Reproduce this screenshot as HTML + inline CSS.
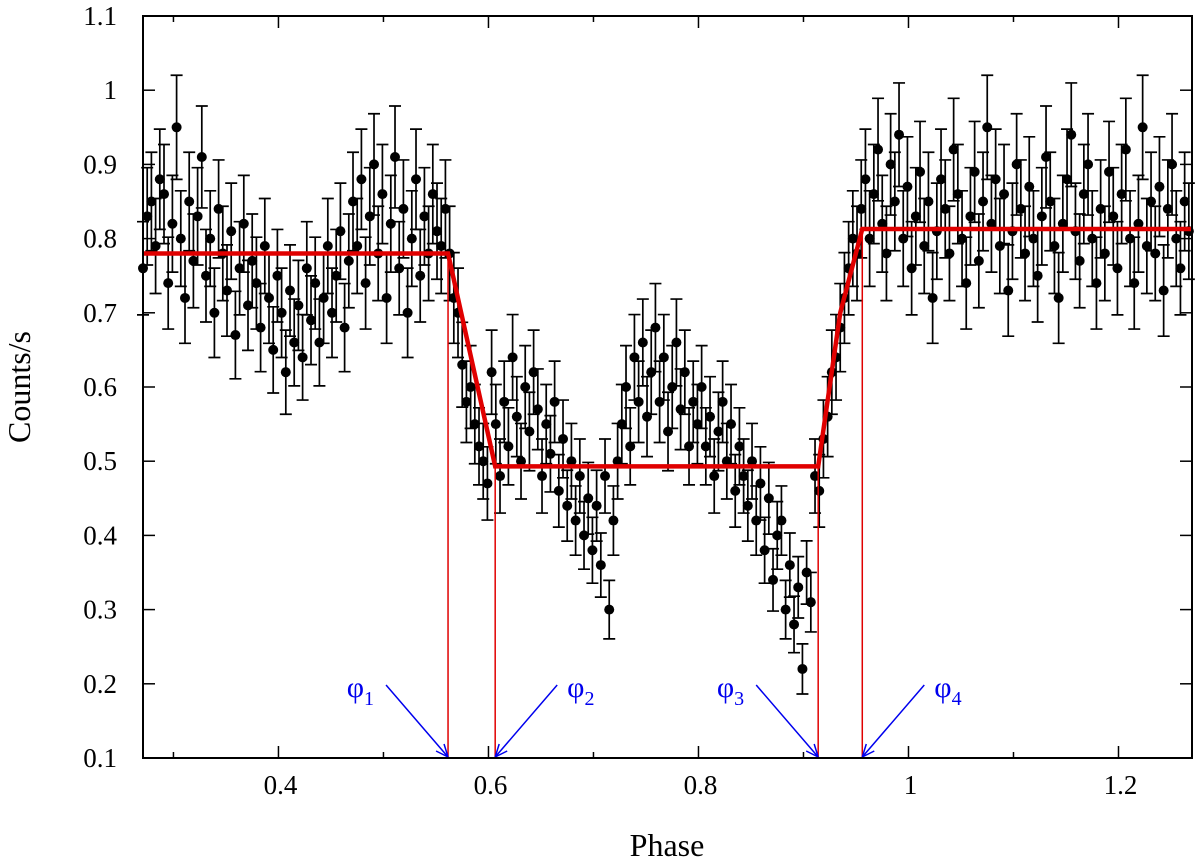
<!DOCTYPE html>
<html><head><meta charset="utf-8"><style>
body{margin:0;background:#fff;}
svg{display:block;font-family:"Liberation Serif",serif;}
</style></head><body>
<svg id="chart" width="1200" height="861" viewBox="0 0 1200 861" xmlns="http://www.w3.org/2000/svg">
<g id="grid"></g>
<g id="errs" stroke="#000" stroke-width="1.7"></g>
<g id="pts" fill="#000"></g>
<g id="fit"></g>
<g id="ann"></g>
<rect x="143" y="16" width="1049" height="742" fill="none" stroke="#000" stroke-width="2"/>
<text x="667" y="856" font-size="32" text-anchor="middle">Phase</text>
<text transform="translate(30,387) rotate(-90)" font-size="32" text-anchor="middle">Counts/s</text>
</svg>
<script>
const xMin=0.271, xMax=1.270, yMin=0.1, yMax=1.1;
const phaseStart=0.271, phaseStep=0.004;
const counts=[0.76,0.83,0.85,0.79,0.88,0.86,0.74,0.82,0.95,0.80,
0.72,0.85,0.77,0.83,0.91,0.75,0.80,0.70,0.84,0.78,
0.73,0.81,0.67,0.76,0.82,0.71,0.77,0.74,0.68,0.79,
0.72,0.65,0.75,0.70,0.62,0.73,0.66,0.71,0.64,0.76,
0.69,0.74,0.66,0.72,0.79,0.70,0.75,0.81,0.68,0.77,
0.85,0.79,0.88,0.74,0.83,0.90,0.78,0.86,0.72,0.82,
0.91,0.76,0.84,0.70,0.80,0.88,0.75,0.83,0.78,0.86,
0.81,0.79,
0.84,0.78,0.72,0.70,0.63,0.58,0.60,0.55,0.52,0.50,0.47,
0.62,0.55,0.48,0.58,0.52,0.64,0.56,0.50,0.60,0.54,0.62,0.57,0.48,0.55,0.51,0.58,0.46,0.53,0.44,0.50,0.42,0.48,0.40,0.45,0.38,
0.44,0.36,0.48,0.30,0.42,0.50,0.55,0.60,0.52,0.64,0.58,0.66,0.56,0.62,0.68,0.58,0.64,0.54,0.60,0.66,0.57,0.62,0.52,0.58,0.55,
0.60,0.52,0.56,0.48,0.54,0.58,0.50,0.55,0.46,0.52,0.48,0.44,0.50,0.42,0.47,
0.38,0.45,0.34,0.40,0.42,0.30,0.36,0.28,0.33,0.22,0.35,0.31,
0.48,0.46,0.53,0.56,0.62,0.64,0.68,0.72,0.76,0.80,0.78,
0.84,0.88,0.80,0.86,0.92,0.82,0.78,0.90,0.85,0.94,
0.80,0.87,0.76,0.83,0.89,0.79,0.85,0.72,0.81,0.88,
0.84,0.78,0.92,0.86,0.80,0.74,0.83,0.89,0.77,0.85,
0.95,0.82,0.88,0.79,0.86,0.73,0.81,0.90,0.84,0.78,
0.87,0.80,0.75,0.83,0.91,0.85,0.79,0.72,0.82,0.88,
0.94,0.81,0.77,0.86,0.90,0.80,0.74,0.84,0.78,0.89,
0.83,0.76,0.86,0.92,0.80,0.74,0.82,0.95,0.79,0.85,
0.78,0.87,0.73,0.84,0.90,0.80,0.76,0.85,0.81];
const fitX=[0.271,0.5615,0.6064,0.914,0.935,0.956,1.270];
const fitY=[0.78,0.78,0.493,0.493,0.70,0.813,0.813];
const phiX=[0.5615,0.6064,0.914,0.956];
const phiY=[0.78,0.493,0.493,0.813];
const phiLabels=["1","2","3","4"];
const xTicks=[0.4,0.6,0.8,1.0,1.2];
const xTickLabels=["0.4","0.6","0.8","1","1.2"];
const xMinor=[0.3,0.5,0.7,0.9,1.1];
const yTicks=[0.1,0.2,0.3,0.4,0.5,0.6,0.7,0.8,0.9,1.0,1.1];
const yTickLabels=["0.1","0.2","0.3","0.4","0.5","0.6","0.7","0.8","0.9","1","1.1"];

const L=143,R=1192,T=16,B=758;
const sx=v=>L+(v-xMin)/(xMax-xMin)*(R-L);
const sy=v=>B-(v-yMin)/(yMax-yMin)*(B-T);
const NS="http://www.w3.org/2000/svg";
function mk(tag,parent,attrs){const e=document.createElementNS(NS,tag);for(const k in attrs)e.setAttribute(k,attrs[k]);document.getElementById(parent).appendChild(e);return e;}

xTicks.forEach((t,i)=>{
  const x=sx(t);
  const a=mk('line','grid',{x1:x,x2:x,y1:B,y2:B-12,stroke:'#000','stroke-width':1.5});
  
  
  const b=mk('line','grid',{x1:x,x2:x,y1:T,y2:T+12,stroke:'#000','stroke-width':1.5});
  
  
  const tx=mk('text','grid',{x:x+2,y:794,'font-size':27,'text-anchor':'middle'});
  tx.textContent=xTickLabels[i];
  
  
});
xMinor.forEach(t=>{
  const x=sx(t);
  const a=mk('line','grid',{x1:x,x2:x,y1:B,y2:B-6,stroke:'#000','stroke-width':1.5});
  
  
  const b=mk('line','grid',{x1:x,x2:x,y1:T,y2:T+6,stroke:'#000','stroke-width':1.5});
  
  
});
yTicks.forEach((t,i)=>{
  const y=sy(t);
  const a=mk('line','grid',{x1:L,x2:L+12,y1:y,y2:y,stroke:'#000','stroke-width':1.5});
  
  
  const b=mk('line','grid',{x1:R-12,x2:R,y1:y,y2:y,stroke:'#000','stroke-width':1.5});
  
  
  const tx=mk('text','grid',{x:117,y:y+9,'font-size':27,'text-anchor':'end'});
  tx.textContent=yTickLabels[i];
  
  
});

counts.forEach((v,i)=>{
  const p=phaseStart+i*phaseStep;
  const x=sx(p), e=0.072*Math.sqrt(v);
  const y1=sy(v+e), y2=sy(v-e);
  const g=mk('path','errs',{d:`M${x},${y1}V${y2}M${x-6},${y1}H${x+6}M${x-6},${y2}H${x+6}`,fill:'none'});
  
  
  const c=mk('circle','pts',{cx:x,cy:sy(v),r:5});
  
  
});

const fl=mk('polyline','fit',{points:fitX.map((x,i)=>sx(x)+','+sy(fitY[i])).join(' '),fill:'none',stroke:'#e00000','stroke-width':4.5});



phiX.forEach((p,i)=>{
  const x=sx(p);
  const v=mk('line','fit',{x1:x,x2:x,y1:B,y2:sy(phiY[i]),stroke:'#e00000','stroke-width':1.5});
  
  
  const left=(i%2===0);
  const x0=left?x-62:x+62, y0=685;
  const ar=mk('path','ann',{d:`M${x0},${y0}L${x},${B-1}M${x},${B-1}l${left?-12:12},-6M${x},${B-1}l${left?-4:4},-13`,fill:'none',stroke:'#0000ee','stroke-width':1.5});
  
  
  const t=mk('text','ann',{x:left?x0-12:x0+10,y:y0+12,'font-size':30,fill:'#0000ee','text-anchor':left?'end':'start'});
  t.innerHTML='φ<tspan font-size="20" dy="8">'+phiLabels[i]+'</tspan>';
  
  
});
</script>
</body></html>
